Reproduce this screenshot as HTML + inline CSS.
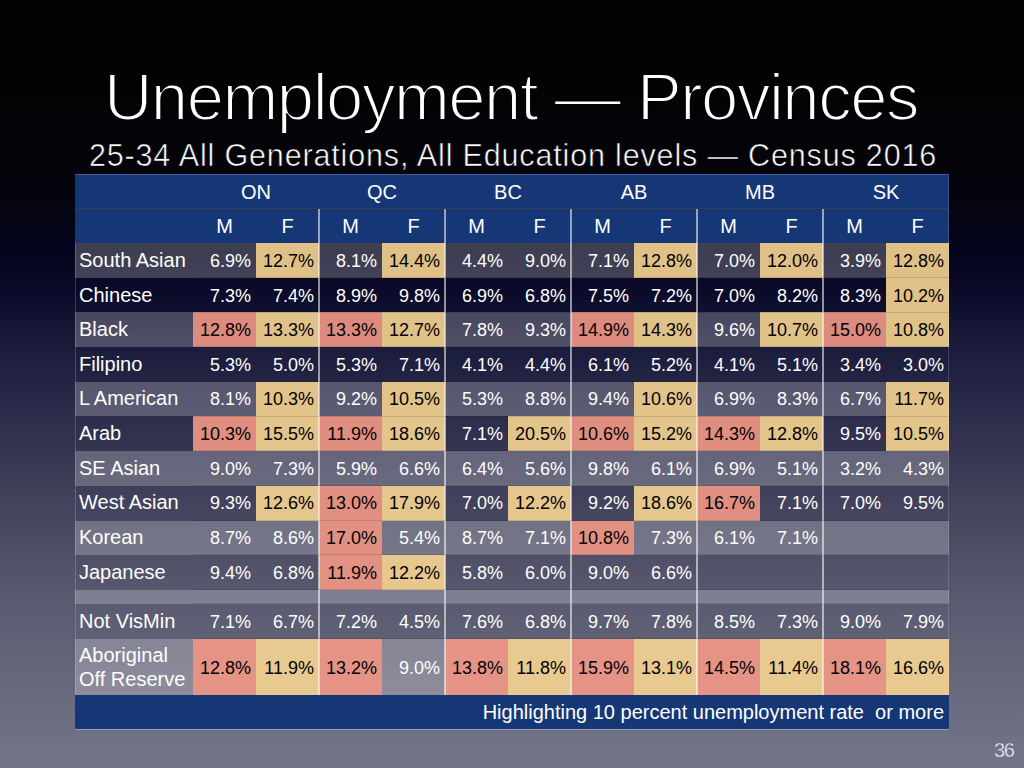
<!DOCTYPE html>
<html><head><meta charset="utf-8"><title>Unemployment — Provinces</title>
<style>
html,body{margin:0;padding:0}
body{width:1024px;height:768px;overflow:hidden;position:relative;
font-family:"Liberation Sans",Arial,Helvetica,sans-serif;color:#fff;
background:linear-gradient(to bottom,rgb(2,2,3) 0px,rgb(4,4,8) 150px,rgb(4,4,15) 200px,rgb(5,4,30) 250px,rgb(12,12,44) 300px,rgb(24,24,56) 335px,rgb(40,40,72) 400px,rgb(66,66,92) 500px,rgb(90,90,112) 600px,rgb(107,107,127) 700px,rgb(116,116,135) 768px);}
.a{position:absolute}
.t{position:absolute;left:0;width:1024px;text-align:center;white-space:nowrap}
#title{top:57px;left:-1px;font-size:67px;line-height:80px;letter-spacing:-1.45px;-webkit-text-stroke:2px #030306}
#sub{top:135px;left:1px;font-size:30.5px;line-height:40px;letter-spacing:0.84px;-webkit-text-stroke:0.6px #040408}
.row{position:absolute;left:75px;width:874px}
.lt{background:rgba(255,255,255,0.23)}
.dk{background:transparent}
.hd{position:absolute;left:75px;width:874px;background:#163776}
.c{position:absolute;width:63px;text-align:right;box-sizing:border-box;padding-right:5px;padding-top:1px;font-size:18px;white-space:nowrap}
.y{color:#000}
.p{color:#000}
.lb{position:absolute;left:79px;font-size:20px;white-space:nowrap}
.hc{position:absolute;text-align:center;font-size:20px}
.vl{position:absolute;width:2px;background:rgba(255,255,255,0.55)}
#foot{position:absolute;left:75px;top:695px;width:874px;height:34px;background:#163776}
#ftxt{position:absolute;right:5px;top:0;font-size:20px;line-height:34px;white-space:nowrap}
#pg{position:absolute;left:994px;top:738.8px;font-size:20px;letter-spacing:-1.3px;color:#f6f6fa;-webkit-text-stroke:0.4px #6e6e84}
</style></head><body>
<div class="t" id="title">Unemployment — Provinces</div>
<div class="t" id="sub">25-34 All Generations, All Education levels — Census 2016</div>

<div class="hd" style="top:174px;height:69px"></div>
<div class="a" style="left:75px;top:174px;width:874px;height:1px;background:#3b5a98"></div>
<div class="a" style="left:75px;top:208px;width:874px;height:1px;background:#3a3e52"></div>
<div class="hc" style="left:193px;width:126px;top:175px;line-height:34px">ON</div>
<div class="hc" style="left:193px;width:63px;top:209px;line-height:34px">M</div>
<div class="hc" style="left:256px;width:63px;top:209px;line-height:34px">F</div>
<div class="hc" style="left:319px;width:126px;top:175px;line-height:34px">QC</div>
<div class="hc" style="left:319px;width:63px;top:209px;line-height:34px">M</div>
<div class="hc" style="left:382px;width:63px;top:209px;line-height:34px">F</div>
<div class="hc" style="left:445px;width:126px;top:175px;line-height:34px">BC</div>
<div class="hc" style="left:445px;width:63px;top:209px;line-height:34px">M</div>
<div class="hc" style="left:508px;width:63px;top:209px;line-height:34px">F</div>
<div class="hc" style="left:571px;width:126px;top:175px;line-height:34px">AB</div>
<div class="hc" style="left:571px;width:63px;top:209px;line-height:34px">M</div>
<div class="hc" style="left:634px;width:63px;top:209px;line-height:34px">F</div>
<div class="hc" style="left:697px;width:126px;top:175px;line-height:34px">MB</div>
<div class="hc" style="left:697px;width:63px;top:209px;line-height:34px">M</div>
<div class="hc" style="left:760px;width:63px;top:209px;line-height:34px">F</div>
<div class="hc" style="left:823px;width:126px;top:175px;line-height:34px">SK</div>
<div class="hc" style="left:823px;width:63px;top:209px;line-height:34px">M</div>
<div class="hc" style="left:886px;width:63px;top:209px;line-height:34px">F</div>
<div class="row lt" style="top:243px;height:35px"></div>
<div class="lb" style="top:243px;line-height:35px">South Asian</div>
<div class="c " style="left:193px;top:243px;height:35px;line-height:35px;padding-top:1px">6.9%</div>
<div class="c y" style="background:#dfc087;left:256px;top:243px;height:35px;line-height:35px;padding-top:1px">12.7%</div>
<div class="c " style="left:319px;top:243px;height:35px;line-height:35px;padding-top:1px">8.1%</div>
<div class="c y" style="background:#dfc087;left:382px;top:243px;height:35px;line-height:35px;padding-top:1px">14.4%</div>
<div class="c " style="left:445px;top:243px;height:35px;line-height:35px;padding-top:1px">4.4%</div>
<div class="c " style="left:508px;top:243px;height:35px;line-height:35px;padding-top:1px">9.0%</div>
<div class="c " style="left:571px;top:243px;height:35px;line-height:35px;padding-top:1px">7.1%</div>
<div class="c y" style="background:#dfc087;left:634px;top:243px;height:35px;line-height:35px;padding-top:1px">12.8%</div>
<div class="c " style="left:697px;top:243px;height:35px;line-height:35px;padding-top:1px">7.0%</div>
<div class="c y" style="background:#dfc087;left:760px;top:243px;height:35px;line-height:35px;padding-top:1px">12.0%</div>
<div class="c " style="left:823px;top:243px;height:35px;line-height:35px;padding-top:1px">3.9%</div>
<div class="c y" style="background:#dfc087;left:886px;top:243px;height:35px;line-height:35px;padding-top:1px">12.8%</div>
<div class="row dk" style="top:278px;height:34px"></div>
<div class="lb" style="top:278px;line-height:34px">Chinese</div>
<div class="c " style="left:193px;top:278px;height:34px;line-height:34px;padding-top:1px">7.3%</div>
<div class="c " style="left:256px;top:278px;height:34px;line-height:34px;padding-top:1px">7.4%</div>
<div class="c " style="left:319px;top:278px;height:34px;line-height:34px;padding-top:1px">8.9%</div>
<div class="c " style="left:382px;top:278px;height:34px;line-height:34px;padding-top:1px">9.8%</div>
<div class="c " style="left:445px;top:278px;height:34px;line-height:34px;padding-top:1px">6.9%</div>
<div class="c " style="left:508px;top:278px;height:34px;line-height:34px;padding-top:1px">6.8%</div>
<div class="c " style="left:571px;top:278px;height:34px;line-height:34px;padding-top:1px">7.5%</div>
<div class="c " style="left:634px;top:278px;height:34px;line-height:34px;padding-top:1px">7.2%</div>
<div class="c " style="left:697px;top:278px;height:34px;line-height:34px;padding-top:1px">7.0%</div>
<div class="c " style="left:760px;top:278px;height:34px;line-height:34px;padding-top:1px">8.2%</div>
<div class="c " style="left:823px;top:278px;height:34px;line-height:34px;padding-top:1px">8.3%</div>
<div class="c y" style="background:#e0c188;left:886px;top:278px;height:34px;line-height:34px;padding-top:1px">10.2%</div>
<div class="row lt" style="top:312px;height:35px"></div>
<div class="lb" style="top:312px;line-height:35px">Black</div>
<div class="c p" style="background:#dd8b7e;left:193px;top:312px;height:35px;line-height:35px;padding-top:1px">12.8%</div>
<div class="c y" style="background:#e0c289;left:256px;top:312px;height:35px;line-height:35px;padding-top:1px">13.3%</div>
<div class="c p" style="background:#dd8b7e;left:319px;top:312px;height:35px;line-height:35px;padding-top:1px">13.3%</div>
<div class="c y" style="background:#e0c289;left:382px;top:312px;height:35px;line-height:35px;padding-top:1px">12.7%</div>
<div class="c " style="left:445px;top:312px;height:35px;line-height:35px;padding-top:1px">7.8%</div>
<div class="c " style="left:508px;top:312px;height:35px;line-height:35px;padding-top:1px">9.3%</div>
<div class="c p" style="background:#dd8b7e;left:571px;top:312px;height:35px;line-height:35px;padding-top:1px">14.9%</div>
<div class="c y" style="background:#e0c289;left:634px;top:312px;height:35px;line-height:35px;padding-top:1px">14.3%</div>
<div class="c " style="left:697px;top:312px;height:35px;line-height:35px;padding-top:1px">9.6%</div>
<div class="c y" style="background:#e0c289;left:760px;top:312px;height:35px;line-height:35px;padding-top:1px">10.7%</div>
<div class="c p" style="background:#dd8b7e;left:823px;top:312px;height:35px;line-height:35px;padding-top:1px">15.0%</div>
<div class="c y" style="background:#e0c289;left:886px;top:312px;height:35px;line-height:35px;padding-top:1px">10.8%</div>
<div class="row dk" style="top:347px;height:35px"></div>
<div class="lb" style="top:347px;line-height:35px">Filipino</div>
<div class="c " style="left:193px;top:347px;height:35px;line-height:35px;padding-top:1px">5.3%</div>
<div class="c " style="left:256px;top:347px;height:35px;line-height:35px;padding-top:1px">5.0%</div>
<div class="c " style="left:319px;top:347px;height:35px;line-height:35px;padding-top:1px">5.3%</div>
<div class="c " style="left:382px;top:347px;height:35px;line-height:35px;padding-top:1px">7.1%</div>
<div class="c " style="left:445px;top:347px;height:35px;line-height:35px;padding-top:1px">4.1%</div>
<div class="c " style="left:508px;top:347px;height:35px;line-height:35px;padding-top:1px">4.4%</div>
<div class="c " style="left:571px;top:347px;height:35px;line-height:35px;padding-top:1px">6.1%</div>
<div class="c " style="left:634px;top:347px;height:35px;line-height:35px;padding-top:1px">5.2%</div>
<div class="c " style="left:697px;top:347px;height:35px;line-height:35px;padding-top:1px">4.1%</div>
<div class="c " style="left:760px;top:347px;height:35px;line-height:35px;padding-top:1px">5.1%</div>
<div class="c " style="left:823px;top:347px;height:35px;line-height:35px;padding-top:1px">3.4%</div>
<div class="c " style="left:886px;top:347px;height:35px;line-height:35px;padding-top:1px">3.0%</div>
<div class="row lt" style="top:382px;height:34px"></div>
<div class="lb" style="top:381px;line-height:34px">L American</div>
<div class="c " style="left:193px;top:382px;height:34px;line-height:34px;padding-top:0px">8.1%</div>
<div class="c y" style="background:#e2c38a;left:256px;top:382px;height:34px;line-height:34px;padding-top:0px">10.3%</div>
<div class="c " style="left:319px;top:382px;height:34px;line-height:34px;padding-top:0px">9.2%</div>
<div class="c y" style="background:#e2c38a;left:382px;top:382px;height:34px;line-height:34px;padding-top:0px">10.5%</div>
<div class="c " style="left:445px;top:382px;height:34px;line-height:34px;padding-top:0px">5.3%</div>
<div class="c " style="left:508px;top:382px;height:34px;line-height:34px;padding-top:0px">8.8%</div>
<div class="c " style="left:571px;top:382px;height:34px;line-height:34px;padding-top:0px">9.4%</div>
<div class="c y" style="background:#e2c38a;left:634px;top:382px;height:34px;line-height:34px;padding-top:0px">10.6%</div>
<div class="c " style="left:697px;top:382px;height:34px;line-height:34px;padding-top:0px">6.9%</div>
<div class="c " style="left:760px;top:382px;height:34px;line-height:34px;padding-top:0px">8.3%</div>
<div class="c " style="left:823px;top:382px;height:34px;line-height:34px;padding-top:0px">6.7%</div>
<div class="c y" style="background:#e2c38a;left:886px;top:382px;height:34px;line-height:34px;padding-top:0px">11.7%</div>
<div class="row dk" style="top:416px;height:35px"></div>
<div class="lb" style="top:416px;line-height:35px">Arab</div>
<div class="c p" style="background:#e08e80;left:193px;top:416px;height:35px;line-height:35px;padding-top:1px">10.3%</div>
<div class="c y" style="background:#e3c48b;left:256px;top:416px;height:35px;line-height:35px;padding-top:1px">15.5%</div>
<div class="c p" style="background:#e08e80;left:319px;top:416px;height:35px;line-height:35px;padding-top:1px">11.9%</div>
<div class="c y" style="background:#e3c48b;left:382px;top:416px;height:35px;line-height:35px;padding-top:1px">18.6%</div>
<div class="c " style="left:445px;top:416px;height:35px;line-height:35px;padding-top:1px">7.1%</div>
<div class="c y" style="background:#e3c48b;left:508px;top:416px;height:35px;line-height:35px;padding-top:1px">20.5%</div>
<div class="c p" style="background:#e08e80;left:571px;top:416px;height:35px;line-height:35px;padding-top:1px">10.6%</div>
<div class="c y" style="background:#e3c48b;left:634px;top:416px;height:35px;line-height:35px;padding-top:1px">15.2%</div>
<div class="c p" style="background:#e08e80;left:697px;top:416px;height:35px;line-height:35px;padding-top:1px">14.3%</div>
<div class="c y" style="background:#e3c48b;left:760px;top:416px;height:35px;line-height:35px;padding-top:1px">12.8%</div>
<div class="c " style="left:823px;top:416px;height:35px;line-height:35px;padding-top:1px">9.5%</div>
<div class="c y" style="background:#e3c48b;left:886px;top:416px;height:35px;line-height:35px;padding-top:1px">10.5%</div>
<div class="row lt" style="top:451px;height:35px"></div>
<div class="lb" style="top:451px;line-height:35px">SE Asian</div>
<div class="c " style="left:193px;top:451px;height:35px;line-height:35px;padding-top:1px">9.0%</div>
<div class="c " style="left:256px;top:451px;height:35px;line-height:35px;padding-top:1px">7.3%</div>
<div class="c " style="left:319px;top:451px;height:35px;line-height:35px;padding-top:1px">5.9%</div>
<div class="c " style="left:382px;top:451px;height:35px;line-height:35px;padding-top:1px">6.6%</div>
<div class="c " style="left:445px;top:451px;height:35px;line-height:35px;padding-top:1px">6.4%</div>
<div class="c " style="left:508px;top:451px;height:35px;line-height:35px;padding-top:1px">5.6%</div>
<div class="c " style="left:571px;top:451px;height:35px;line-height:35px;padding-top:1px">9.8%</div>
<div class="c " style="left:634px;top:451px;height:35px;line-height:35px;padding-top:1px">6.1%</div>
<div class="c " style="left:697px;top:451px;height:35px;line-height:35px;padding-top:1px">6.9%</div>
<div class="c " style="left:760px;top:451px;height:35px;line-height:35px;padding-top:1px">5.1%</div>
<div class="c " style="left:823px;top:451px;height:35px;line-height:35px;padding-top:1px">3.2%</div>
<div class="c " style="left:886px;top:451px;height:35px;line-height:35px;padding-top:1px">4.3%</div>
<div class="row dk" style="top:486px;height:35px"></div>
<div class="lb" style="top:485px;line-height:35px">West Asian</div>
<div class="c " style="left:193px;top:486px;height:35px;line-height:35px;padding-top:0px">9.3%</div>
<div class="c y" style="background:#e5c68c;left:256px;top:486px;height:35px;line-height:35px;padding-top:0px">12.6%</div>
<div class="c p" style="background:#e18f81;left:319px;top:486px;height:35px;line-height:35px;padding-top:0px">13.0%</div>
<div class="c y" style="background:#e5c68c;left:382px;top:486px;height:35px;line-height:35px;padding-top:0px">17.9%</div>
<div class="c " style="left:445px;top:486px;height:35px;line-height:35px;padding-top:0px">7.0%</div>
<div class="c y" style="background:#e5c68c;left:508px;top:486px;height:35px;line-height:35px;padding-top:0px">12.2%</div>
<div class="c " style="left:571px;top:486px;height:35px;line-height:35px;padding-top:0px">9.2%</div>
<div class="c y" style="background:#e5c68c;left:634px;top:486px;height:35px;line-height:35px;padding-top:0px">18.6%</div>
<div class="c p" style="background:#e18f81;left:697px;top:486px;height:35px;line-height:35px;padding-top:0px">16.7%</div>
<div class="c " style="left:760px;top:486px;height:35px;line-height:35px;padding-top:0px">7.1%</div>
<div class="c " style="left:823px;top:486px;height:35px;line-height:35px;padding-top:0px">7.0%</div>
<div class="c " style="left:886px;top:486px;height:35px;line-height:35px;padding-top:0px">9.5%</div>
<div class="row lt" style="top:521px;height:34px"></div>
<div class="lb" style="top:520px;line-height:34px">Korean</div>
<div class="c " style="left:193px;top:521px;height:34px;line-height:34px;padding-top:0px">8.7%</div>
<div class="c " style="left:256px;top:521px;height:34px;line-height:34px;padding-top:0px">8.6%</div>
<div class="c p" style="background:#e29082;left:319px;top:521px;height:34px;line-height:34px;padding-top:0px">17.0%</div>
<div class="c " style="left:382px;top:521px;height:34px;line-height:34px;padding-top:0px">5.4%</div>
<div class="c " style="left:445px;top:521px;height:34px;line-height:34px;padding-top:0px">8.7%</div>
<div class="c " style="left:508px;top:521px;height:34px;line-height:34px;padding-top:0px">7.1%</div>
<div class="c p" style="background:#e29082;left:571px;top:521px;height:34px;line-height:34px;padding-top:0px">10.8%</div>
<div class="c " style="left:634px;top:521px;height:34px;line-height:34px;padding-top:0px">7.3%</div>
<div class="c " style="left:697px;top:521px;height:34px;line-height:34px;padding-top:0px">6.1%</div>
<div class="c " style="left:760px;top:521px;height:34px;line-height:34px;padding-top:0px">7.1%</div>
<div class="row dk" style="top:555px;height:35px"></div>
<div class="lb" style="top:555px;line-height:35px">Japanese</div>
<div class="c " style="left:193px;top:555px;height:35px;line-height:35px;padding-top:1px">9.4%</div>
<div class="c " style="left:256px;top:555px;height:35px;line-height:35px;padding-top:1px">6.8%</div>
<div class="c p" style="background:#e39183;left:319px;top:555px;height:35px;line-height:35px;padding-top:1px">11.9%</div>
<div class="c y" style="background:#e6c78e;left:382px;top:555px;height:35px;line-height:35px;padding-top:1px">12.2%</div>
<div class="c " style="left:445px;top:555px;height:35px;line-height:35px;padding-top:1px">5.8%</div>
<div class="c " style="left:508px;top:555px;height:35px;line-height:35px;padding-top:1px">6.0%</div>
<div class="c " style="left:571px;top:555px;height:35px;line-height:35px;padding-top:1px">9.0%</div>
<div class="c " style="left:634px;top:555px;height:35px;line-height:35px;padding-top:1px">6.6%</div>
<div class="row lt" style="top:590px;height:14px"></div>
<div class="row dk" style="top:604px;height:35px"></div>
<div class="lb" style="top:604px;line-height:35px">Not VisMin</div>
<div class="c " style="left:193px;top:604px;height:35px;line-height:35px;padding-top:1px">7.1%</div>
<div class="c " style="left:256px;top:604px;height:35px;line-height:35px;padding-top:1px">6.7%</div>
<div class="c " style="left:319px;top:604px;height:35px;line-height:35px;padding-top:1px">7.2%</div>
<div class="c " style="left:382px;top:604px;height:35px;line-height:35px;padding-top:1px">4.5%</div>
<div class="c " style="left:445px;top:604px;height:35px;line-height:35px;padding-top:1px">7.6%</div>
<div class="c " style="left:508px;top:604px;height:35px;line-height:35px;padding-top:1px">6.8%</div>
<div class="c " style="left:571px;top:604px;height:35px;line-height:35px;padding-top:1px">9.7%</div>
<div class="c " style="left:634px;top:604px;height:35px;line-height:35px;padding-top:1px">7.8%</div>
<div class="c " style="left:697px;top:604px;height:35px;line-height:35px;padding-top:1px">8.5%</div>
<div class="c " style="left:760px;top:604px;height:35px;line-height:35px;padding-top:1px">7.3%</div>
<div class="c " style="left:823px;top:604px;height:35px;line-height:35px;padding-top:1px">9.0%</div>
<div class="c " style="left:886px;top:604px;height:35px;line-height:35px;padding-top:1px">7.9%</div>
<div class="row lt" style="top:639px;height:56px"></div>
<div class="lb" style="top:644px;line-height:23.5px">Aboriginal<br>Off Reserve</div>
<div class="c p" style="background:#e49384;left:193px;top:639px;height:56px;line-height:56px;padding-top:1px">12.8%</div>
<div class="c y" style="background:#e8c98f;left:256px;top:639px;height:56px;line-height:56px;padding-top:1px">11.9%</div>
<div class="c p" style="background:#e49384;left:319px;top:639px;height:56px;line-height:56px;padding-top:1px">13.2%</div>
<div class="c " style="left:382px;top:639px;height:56px;line-height:56px;padding-top:1px">9.0%</div>
<div class="c p" style="background:#e49384;left:445px;top:639px;height:56px;line-height:56px;padding-top:1px">13.8%</div>
<div class="c y" style="background:#e8c98f;left:508px;top:639px;height:56px;line-height:56px;padding-top:1px">11.8%</div>
<div class="c p" style="background:#e49384;left:571px;top:639px;height:56px;line-height:56px;padding-top:1px">15.9%</div>
<div class="c y" style="background:#e8c98f;left:634px;top:639px;height:56px;line-height:56px;padding-top:1px">13.1%</div>
<div class="c p" style="background:#e49384;left:697px;top:639px;height:56px;line-height:56px;padding-top:1px">14.5%</div>
<div class="c y" style="background:#e8c98f;left:760px;top:639px;height:56px;line-height:56px;padding-top:1px">11.4%</div>
<div class="c p" style="background:#e49384;left:823px;top:639px;height:56px;line-height:56px;padding-top:1px">18.1%</div>
<div class="c y" style="background:#e8c98f;left:886px;top:639px;height:56px;line-height:56px;padding-top:1px">16.6%</div>
<div class="vl" style="left:318px;top:209px;height:486px"></div>
<div class="vl" style="left:444px;top:209px;height:486px"></div>
<div class="vl" style="left:570px;top:209px;height:486px"></div>
<div class="vl" style="left:696px;top:209px;height:486px"></div>
<div class="vl" style="left:822px;top:209px;height:486px"></div>
<div class="a" style="left:193px;top:277px;width:756px;height:1px;background:rgba(0,0,0,0.12)"></div>
<div class="a" style="left:193px;top:312px;width:756px;height:1px;background:rgba(0,0,0,0.12)"></div>
<div class="a" style="left:193px;top:346px;width:756px;height:1px;background:rgba(0,0,0,0.12)"></div>
<div class="a" style="left:193px;top:381px;width:756px;height:1px;background:rgba(0,0,0,0.12)"></div>
<div class="a" style="left:193px;top:416px;width:756px;height:1px;background:rgba(0,0,0,0.12)"></div>
<div class="a" style="left:193px;top:450px;width:756px;height:1px;background:rgba(0,0,0,0.12)"></div>
<div class="a" style="left:193px;top:485px;width:756px;height:1px;background:rgba(0,0,0,0.12)"></div>
<div class="a" style="left:193px;top:520px;width:756px;height:1px;background:rgba(0,0,0,0.12)"></div>
<div class="a" style="left:193px;top:554px;width:756px;height:1px;background:rgba(0,0,0,0.12)"></div>
<div class="a" style="left:193px;top:589px;width:756px;height:1px;background:rgba(0,0,0,0.12)"></div>
<div class="a" style="left:193px;top:603px;width:756px;height:1px;background:rgba(0,0,0,0.12)"></div>
<div class="a" style="left:193px;top:638px;width:756px;height:1px;background:rgba(0,0,0,0.12)"></div>
<div class="a" style="left:948px;top:175px;width:1px;height:554px;background:rgba(255,255,255,0.15)"></div>
<div class="a" style="left:75px;top:243px;width:1px;height:452px;background:rgba(255,255,255,0.18)"></div>
<div id="foot"><div id="ftxt">Highlighting 10 percent unemployment rate&nbsp; or more</div></div>
<div class="a" style="left:75px;top:729px;width:874px;height:1px;background:rgba(235,235,255,0.35)"></div>
<div id="pg">36</div>
</body></html>
